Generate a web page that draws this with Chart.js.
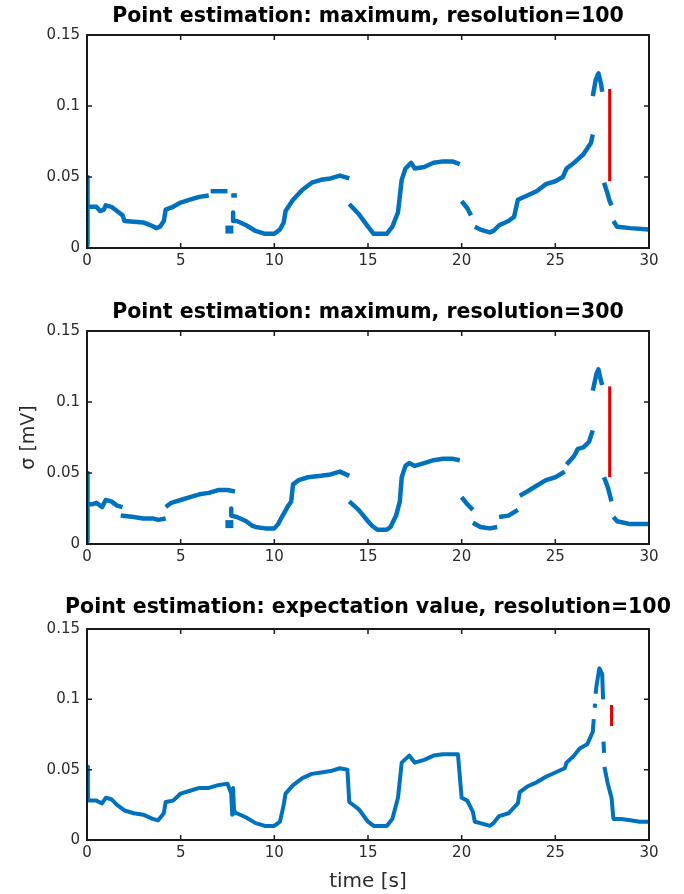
<!DOCTYPE html>
<html>
<head>
<meta charset="utf-8">
<script src="https://cdn.jsdelivr.net/npm/chart.js@4.4.0/dist/chart.umd.min.js"></script>
<style>
body { margin: 0; background: #fff; width: 684px; height: 894px; overflow: hidden; position: relative; }
.panel { position: absolute; left: 0; width: 684px; }
</style>
</head>
<body>
<div class="panel" style="top:0px;height:270px"><canvas id="c1"></canvas></div>
<div class="panel" style="top:296px;height:270px"><canvas id="c2"></canvas></div>
<div class="panel" style="top:594px;height:300px"><canvas id="c3"></canvas></div>
<script>
// Axis ticks shared by all three panels
const xTicks = [0, 5, 10, 15, 20, 25, 30];
const yTicks = [0, 0.05, 0.1, 0.15];
const yTickLabels = ["0", "0.05", "0.1", "0.15"];

const titles = [
    "Point estimation: maximum, resolution=100",
    "Point estimation: maximum, resolution=300",
    "Point estimation: expectation value, resolution=100",
];

// Panel 1: maximum, resolution=100 (null = gap in the trace)
const time1 = [0, 0, 0.05, 0.5, 0.7, 0.9, 1.0, 1.3, 1.6, 1.9, 2.0, 3.0, 3.4, 3.7, 3.9, 4.1, 4.2, 4.6, 5.0, 5.5, 6.0, 6.5, 6.5,
    6.6, 7.5, 7.5, 7.7, 8.0, 8.0, 7.6, 7.6, 7.8, 7.8, 8.0, 8.5, 9.0, 9.5, 10.0, 10.3, 10.5, 10.6, 11.0, 11.5, 12.0, 12.5, 13.0, 13.5, 14.0, 14.0,
    14.0, 14.5, 15.0, 15.3, 16.0, 16.3, 16.6, 16.8, 17.0, 17.3, 17.5, 18.0, 18.5, 19.0, 19.5, 19.9, 19.9,
    20.0, 20.3, 20.5, 20.5, 20.7, 21.0, 21.5, 21.7, 22.0, 22.5, 22.8, 23.0, 23.5, 24.0, 24.5, 25.0, 25.4, 25.6, 26.0, 26.5, 26.9, 27.0, 27.0,
    27.0, 27.15, 27.3, 27.45, 27.5, 27.5, 27.6, 27.75, 27.9, 28.0, 28.0, 28.1, 28.3, 29.0, 30.0];
const sigma1 = [0.002, 0.05, 0.029, 0.029, 0.026, 0.027, 0.030, 0.029, 0.026, 0.023, 0.019, 0.018, 0.016, 0.014, 0.015, 0.019, 0.027, 0.029, 0.032, 0.034, 0.036, 0.037, null,
    0.040, 0.040, null, 0.037, 0.037, null, 0.013, null, 0.025, 0.019, 0.019, 0.016, 0.012, 0.010, 0.010, 0.013, 0.018, 0.026, 0.034, 0.041, 0.046, 0.048, 0.049, 0.051, 0.049, null,
    0.031, 0.024, 0.015, 0.010, 0.010, 0.015, 0.025, 0.048, 0.056, 0.060, 0.056, 0.057, 0.060, 0.061, 0.061, 0.059, null,
    0.033, 0.028, 0.023, null, 0.015, 0.013, 0.011, 0.012, 0.016, 0.019, 0.022, 0.034, 0.037, 0.040, 0.045, 0.047, 0.050, 0.056, 0.060, 0.066, 0.074, 0.080, null,
    0.107, 0.118, 0.123, 0.115, 0.110, null, 0.046, 0.040, 0.033, 0.030, null, 0.019, 0.015, 0.014, 0.013];

// Panel 2: maximum, resolution=300
const time2 = [0, 0, 0.05, 0.3, 0.5, 0.8, 1.0, 1.3, 1.6, 1.9, 1.9, 1.8, 2.5, 3.0, 3.5, 3.8, 4.2, 4.2,
    4.2, 4.5, 5.0, 5.5, 6.0, 6.5, 7.0, 7.5, 7.9, 7.9, 7.6, 7.6, 7.7, 7.7, 8.0, 8.5, 8.8, 9.0, 9.5, 10.0, 10.2, 10.4, 10.7, 10.9, 11.0, 11.3, 11.8, 12.5, 13.0, 13.5, 14.0, 14.0,
    14.0, 14.5, 15.0, 15.2, 15.5, 16.0, 16.2, 16.5, 16.7, 16.8, 17.0, 17.2, 17.5, 18.0, 18.5, 19.0, 19.5, 19.9, 19.9,
    20.0, 20.3, 20.6, 20.6, 20.6, 21.0, 21.5, 21.9, 21.9, 22.0, 22.5, 23.0, 23.0, 23.1, 23.5, 24.0, 24.5, 25.0, 25.5, 25.5,
    25.6, 26.0, 26.2, 26.5, 26.8, 27.0, 27.0, 27.0, 27.2, 27.3, 27.4, 27.5, 27.5, 27.6, 27.8, 28.0, 28.0, 28.1, 28.3, 29.0, 30.0];
const sigma2 = [0.002, 0.05, 0.028, 0.028, 0.029, 0.026, 0.031, 0.030, 0.027, 0.026, null, 0.020, 0.019, 0.018, 0.018, 0.017, 0.018, null,
    0.026, 0.029, 0.031, 0.033, 0.035, 0.036, 0.038, 0.038, 0.037, null, 0.014, null, 0.025, 0.020, 0.019, 0.016, 0.013, 0.012, 0.011, 0.011, 0.014, 0.019, 0.026, 0.030, 0.042, 0.045, 0.047, 0.048, 0.049, 0.051, 0.048, null,
    0.030, 0.024, 0.016, 0.013, 0.010, 0.010, 0.012, 0.020, 0.030, 0.047, 0.055, 0.057, 0.055, 0.057, 0.059, 0.060, 0.060, 0.059, null,
    0.033, 0.028, 0.024, null, 0.015, 0.012, 0.011, 0.012, null, 0.019, 0.020, 0.024, null, 0.034, 0.037, 0.041, 0.045, 0.047, 0.051, null,
    0.056, 0.062, 0.067, 0.068, 0.072, 0.080, null, 0.108, 0.120, 0.123, 0.117, 0.112, null, 0.047, 0.040, 0.030, null, 0.019, 0.016, 0.014, 0.014];

// Panel 3: expectation value, resolution=100
const time3 = [0, 0.05, 0.1, 0.5, 0.8, 1.0, 1.3, 1.6, 2.0, 2.5, 3.0, 3.5, 3.8, 4.1, 4.2, 4.6, 5.0, 5.5, 6.0, 6.5, 7.0, 7.5, 7.7, 7.75, 7.8, 7.85, 7.9, 8.0,
    8.5, 9.0, 9.5, 10.0, 10.3, 10.5, 10.6, 11.0, 11.5, 12.0, 12.5, 13.0, 13.5, 13.9, 14.0, 14.5, 15.0, 15.3, 16.0, 16.3, 16.6, 16.8, 17.2, 17.5,
    18.0, 18.5, 19.0, 19.8, 20.0, 20.3, 20.6, 20.7, 21.0, 21.5, 21.7, 22.0, 22.5, 23.0, 23.1, 23.5, 24.0, 24.5, 25.0, 25.5, 25.6, 26.0, 26.3, 26.7, 27.0, 27.05, 27.05,
    27.1, 27.12, 27.12, 27.15, 27.2, 27.35, 27.5, 27.55, 27.55, 27.57, 27.6, 27.6, 27.62, 27.8, 28.0, 28.1, 28.5, 29.0, 29.5, 30.0];
const sigma3 = [0.052, 0.030, 0.028, 0.028, 0.026, 0.030, 0.029, 0.025, 0.021, 0.019, 0.018, 0.015, 0.014, 0.019, 0.027, 0.028, 0.033, 0.035, 0.037, 0.037, 0.039, 0.040, 0.033, 0.018, 0.037, 0.020, 0.019, 0.019,
    0.016, 0.012, 0.010, 0.010, 0.013, 0.025, 0.033, 0.039, 0.044, 0.047, 0.048, 0.049, 0.051, 0.050, 0.027, 0.022, 0.013, 0.010, 0.010, 0.015, 0.030, 0.055, 0.060, 0.055,
    0.057, 0.060, 0.061, 0.061, 0.030, 0.028, 0.020, 0.013, 0.012, 0.010, 0.012, 0.017, 0.019, 0.026, 0.034, 0.038, 0.041, 0.045, 0.048, 0.051, 0.055, 0.060, 0.065, 0.068, 0.077, 0.086, null,
    0.094, 0.097, null, 0.104, 0.110, 0.122, 0.118, 0.100, null, 0.070, 0.062, null, 0.052, 0.040, 0.030, 0.015, 0.015, 0.014, 0.013, 0.013];

// Red vertical markers (time, low, high) per panel
const redTime = [27.9, 27.9, 28.0];
const redLow = [0.047, 0.047, 0.081];
const redHigh = [0.112, 0.111, 0.096];

const blue = "#0072BD";
const red = "#E00000";
const textGrey = "#2b2b2b";

// Split a trace into continuous runs at the null gaps
function splitRuns(ts, vs) {
    const runs = [];
    let cur = [];
    ts.forEach((t, i) => {
        if (vs[i] === null) {
            if (cur.length) runs.push(cur);
            cur = [];
        } else {
            cur.push({ x: t, y: vs[i] });
        }
    });
    if (cur.length) runs.push(cur);
    return runs;
}

// Box around the plot area with inward ticks on all four sides,
// plus the panel title centred over the box (allowed to run past its edges)
const framePlugin = {
    id: "frame",
    afterDraw(chart, args, opts) {
        const { ctx, chartArea: a, scales } = chart;
        ctx.save();
        ctx.strokeStyle = "#1a1a1a";
        ctx.lineWidth = 1.5;
        ctx.beginPath();
        xTicks.forEach((v) => {
            const px = scales.x.getPixelForValue(v);
            ctx.moveTo(px, a.bottom);
            ctx.lineTo(px, a.bottom - 5);
            ctx.moveTo(px, a.top);
            ctx.lineTo(px, a.top + 5);
        });
        yTicks.forEach((v) => {
            const py = scales.y.getPixelForValue(v);
            ctx.moveTo(a.left, py);
            ctx.lineTo(a.left + 5, py);
            ctx.moveTo(a.right, py);
            ctx.lineTo(a.right - 5, py);
        });
        ctx.stroke();
        ctx.lineWidth = 2;
        ctx.strokeRect(a.left, a.top, a.right - a.left, a.bottom - a.top);

        ctx.fillStyle = "#000";
        ctx.font = 'bold 20.5px "DejaVu Sans"';
        ctx.textAlign = "center";
        ctx.textBaseline = "middle";
        ctx.fillText(opts.text, (a.left + a.right) / 2, opts.y);
        ctx.restore();
    },
};

function makePanel(id, k, ts, vs, opts) {
    const tickFont = { family: "DejaVu Sans", size: 15 };
    const datasets = splitRuns(ts, vs).map((run) => ({
        data: run,
        showLine: true,
        borderColor: blue,
        backgroundColor: blue,
        borderWidth: opts.lineWidth,
        pointRadius: run.length === 1 ? 2.5 : 0,
        pointStyle: "rect",
        borderJoinStyle: "round",
    }));
    datasets.push({
        data: [
            { x: redTime[k], y: redLow[k] },
            { x: redTime[k], y: redHigh[k] },
        ],
        showLine: true,
        borderColor: red,
        borderWidth: 3,
        pointRadius: 0,
    });

    new Chart(document.getElementById(id), {
        type: "scatter",
        data: { datasets },
        options: {
            responsive: true,
            maintainAspectRatio: false,
            animation: false,
            layout: { padding: { left: 18, right: 35, top: 35, bottom: 0 } },
            plugins: {
                legend: { display: false },
                tooltip: { enabled: false },
                frame: { text: titles[k], y: opts.titleY },
            },
            scales: {
                x: {
                    type: "linear",
                    min: 0,
                    max: 30,
                    grid: { display: false, drawTicks: false },
                    border: { display: false },
                    afterBuildTicks: (s) => { s.ticks = xTicks.map((v) => ({ value: v })); },
                    afterFit: (s) => { s.height = opts.xHeight; },
                    ticks: { color: textGrey, font: tickFont, padding: 4, maxRotation: 0 },
                    title: {
                        display: !!opts.xTitle,
                        text: opts.xTitle || "",
                        color: textGrey,
                        font: { family: "DejaVu Sans", size: 20 },
                        padding: { top: 0, bottom: 0 },
                    },
                },
                y: {
                    min: 0,
                    max: 0.15,
                    grid: { display: false, drawTicks: false },
                    border: { display: false },
                    afterBuildTicks: (s) => { s.ticks = yTicks.map((v) => ({ value: v })); },
                    afterFit: (s) => { s.width = 69; },
                    ticks: {
                        color: textGrey,
                        font: tickFont,
                        padding: 7,
                        callback: (v) => yTickLabels[yTicks.indexOf(v)],
                    },
                    title: {
                        display: !!opts.yTitle,
                        text: opts.yTitle || "",
                        color: textGrey,
                        font: { family: "DejaVu Sans", size: 19 },
                        padding: { top: 0, bottom: 0 },
                    },
                },
            },
        },
        plugins: [framePlugin],
    });
}

makePanel("c1", 0, time1, sigma1, { lineWidth: 4.5, xHeight: 22, titleY: 17 });
makePanel("c2", 1, time2, sigma2, { lineWidth: 4.5, xHeight: 22, titleY: 17, yTitle: "σ [mV]" });
makePanel("c3", 2, time3, sigma3, { lineWidth: 4, xHeight: 54, titleY: 14, xTitle: "time [s]" });
</script>
</body>
</html>
